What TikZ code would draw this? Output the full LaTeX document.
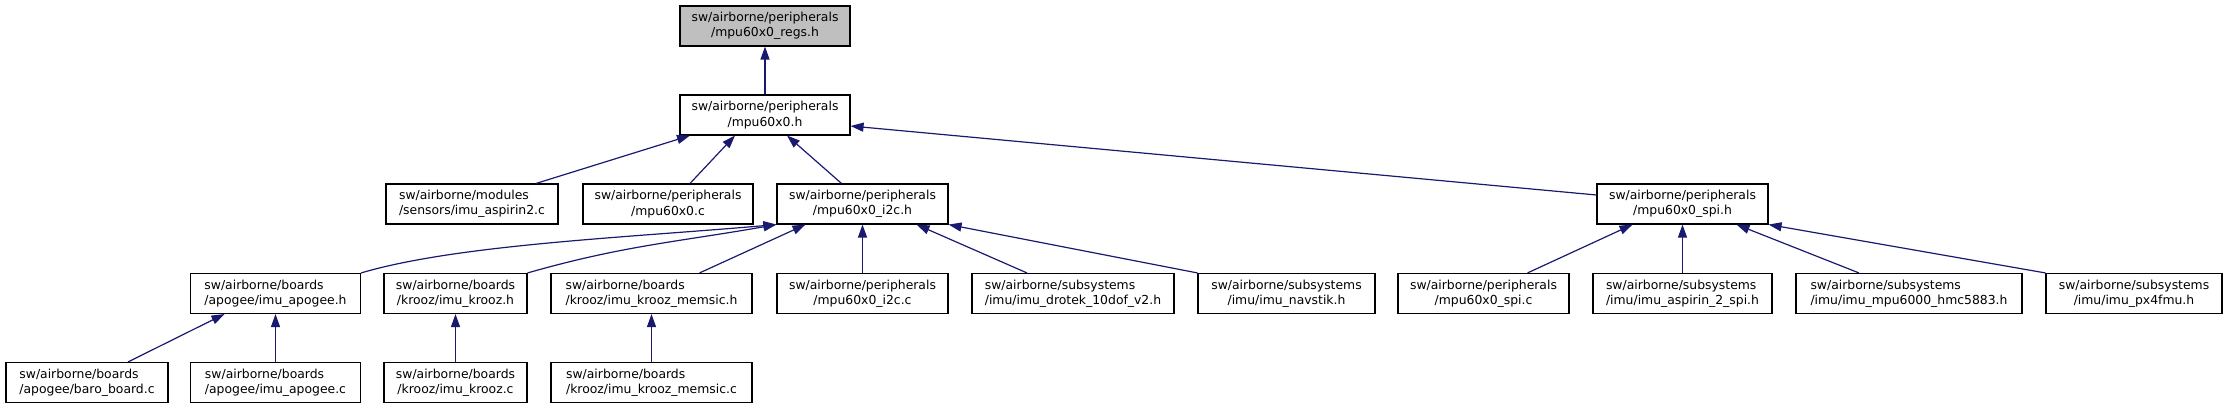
\documentclass[tikz,border=0pt]{standalone}
\usepackage{fontspec}
\setmainfont{DejaVu Sans}
\usetikzlibrary{arrows.meta}
\definecolor{edgeblue}{HTML}{191970}
\definecolor{boxgray}{HTML}{BFBFBF}
\newcommand{\flabel}[2]{%
  \setbox0=\hbox{#1}\setbox2=\hbox{#2}%
  \ifdim\wd0<\wd2 \hbox to \wd2{#1\hfil}\else\box0\fi\\#2}
\begin{document}
\begin{tikzpicture}[x=1pt, y=1pt, >={Triangle[length=13pt,width=9pt]},
  box/.style={draw, line width=1.1pt, minimum height=40pt, inner xsep=0pt, inner ysep=0pt,
    align=center, font=\fontsize{12.4}{15.5}\selectfont},
  edge/.style={<-, draw=edgeblue, fill=none, line width=1.2pt}]
  \useasboundingbox (0,0) rectangle (2228,-409);
  \node[box, fill=boxgray, minimum width=170pt] (regs) at (765,-26) {\flabel{sw/airborne/peripherals}{/mpu60x0\_regs.h}};
  \node[box, minimum width=170pt] (mpu) at (765,-115) {\flabel{sw/airborne/peripherals}{/mpu60x0.h}};
  \node[box, minimum width=172pt] (aspirin) at (472,-204) {\flabel{sw/airborne/modules}{/sensors/imu\_aspirin2.c}};
  \node[box, minimum width=170pt] (mpuc) at (668,-204) {\flabel{sw/airborne/peripherals}{/mpu60x0.c}};
  \node[box, minimum width=171pt] (i2ch) at (862.5,-204) {\flabel{sw/airborne/peripherals}{/mpu60x0\_i2c.h}};
  \node[box, minimum width=171pt] (spih) at (1682.5,-204) {\flabel{sw/airborne/peripherals}{/mpu60x0\_spi.h}};
  \node[box, minimum width=170pt] (apogeeh) at (275.5,-293.5) {\flabel{sw/airborne/boards}{/apogee/imu\_apogee.h}};
  \node[box, minimum width=143pt] (kroozh) at (455.5,-293.5) {\flabel{sw/airborne/boards}{/krooz/imu\_krooz.h}};
  \node[box, minimum width=201pt] (memsich) at (651.5,-293.5) {\flabel{sw/airborne/boards}{/krooz/imu\_krooz\_memsic.h}};
  \node[box, minimum width=171pt] (i2cc) at (862.5,-293.5) {\flabel{sw/airborne/peripherals}{/mpu60x0\_i2c.c}};
  \node[box, minimum width=202pt] (drotek) at (1073,-293.5) {\flabel{sw/airborne/subsystems}{/imu/imu\_drotek\_10dof\_v2.h}};
  \node[box, minimum width=177pt] (navstik) at (1286.5,-293.5) {\flabel{sw/airborne/subsystems}{/imu/imu\_navstik.h}};
  \node[box, minimum width=171pt] (spic) at (1483.5,-293.5) {\flabel{sw/airborne/peripherals}{/mpu60x0\_spi.c}};
  \node[box, minimum width=179pt] (aspspi) at (1682.5,-293.5) {\flabel{sw/airborne/subsystems}{/imu/imu\_aspirin\_2\_spi.h}};
  \node[box, minimum width=226pt] (hmc) at (1909,-293.5) {\flabel{sw/airborne/subsystems}{/imu/imu\_mpu6000\_hmc5883.h}};
  \node[box, minimum width=176pt] (px4) at (2134,-293.5) {\flabel{sw/airborne/subsystems}{/imu/imu\_px4fmu.h}};
  \node[box, minimum width=162pt] (baro) at (87,-382.5) {\flabel{sw/airborne/boards}{/apogee/baro\_board.c}};
  \node[box, minimum width=170pt] (apogeec) at (275.5,-382.5) {\flabel{sw/airborne/boards}{/apogee/imu\_apogee.c}};
  \node[box, minimum width=143pt] (kroozc) at (455.5,-382.5) {\flabel{sw/airborne/boards}{/krooz/imu\_krooz.c}};
  \node[box, minimum width=201pt] (memsicc) at (651.5,-382.5) {\flabel{sw/airborne/boards}{/krooz/imu\_krooz\_memsic.c}};
  \draw[edge] (regs) -- (mpu);
  \draw[edge] ([xshift=-75pt]mpu.south) -- ([xshift=64pt]aspirin.north);
  \draw[edge] ([xshift=-30pt]mpu.south) -- ([xshift=22pt]mpuc.north);
  \draw[edge] ([xshift=22pt]mpu.south) -- ([xshift=-21pt]i2ch.north);
  \draw[edge] ([yshift=-11pt]mpu.east) -- ([yshift=9pt]spih.west);
  \draw[edge] (i2ch.south west) .. controls +(185:150) and +(16.5:100) .. (apogeeh.north east);
  \draw[edge] (i2ch.south west) to[out=190, in=16] (kroozh.north east);
  \draw[edge] ([xshift=-57pt]i2ch.south) -- ([xshift=48pt]memsich.north);
  \draw[edge] (i2ch) -- (i2cc);
  \draw[edge] ([xshift=54pt]i2ch.south) -- ([xshift=-46pt]drotek.north);
  \draw[edge] (i2ch.south east) -- (navstik.north west);
  \draw[edge] ([xshift=-50pt]spih.south) -- ([xshift=44pt]spic.north);
  \draw[edge] (spih) -- (aspspi);
  \draw[edge] ([xshift=54pt]spih.south) -- ([xshift=-50pt]hmc.north);
  \draw[edge] (spih.south east) -- (px4.north west);
  \draw[edge] ([xshift=-51pt]apogeeh.south) -- ([xshift=41pt]baro.north);
  \draw[edge] (apogeeh) -- (apogeec);
  \draw[edge] (kroozh) -- (kroozc);
  \draw[edge] (memsich) -- (memsicc);
\end{tikzpicture}
\end{document}
